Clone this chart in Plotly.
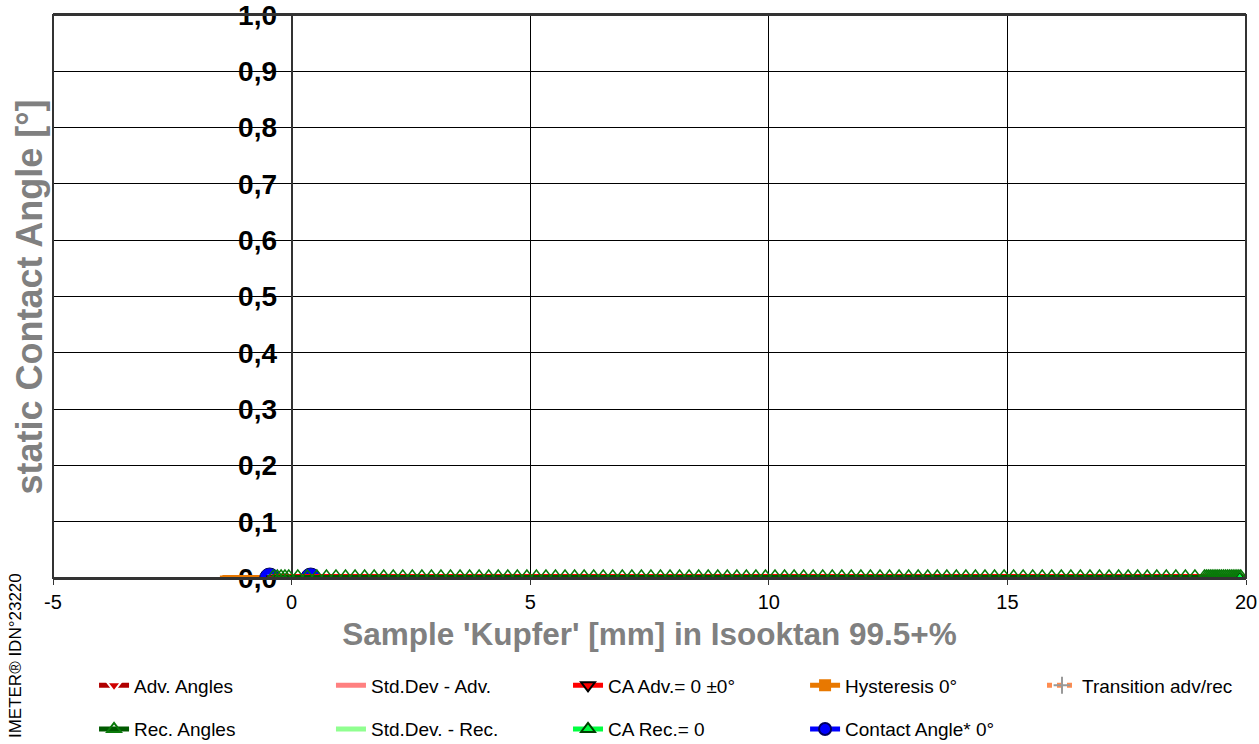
import plotly.graph_objects as go

# Measurement positions along the sample [mm]
positions = [
    -0.38, -0.30, -0.22, -0.14, -0.06,
    0.13, 0.33, 0.53, 0.73, 0.93, 1.13, 1.33, 1.53, 1.73, 1.93,
    2.13, 2.33, 2.53, 2.73, 2.93, 3.13, 3.33, 3.53, 3.73, 3.93,
    4.13, 4.33, 4.53, 4.73, 4.93, 5.13, 5.33, 5.53, 5.73, 5.93,
    6.13, 6.33, 6.53, 6.73, 6.93, 7.13, 7.33, 7.53, 7.73, 7.93,
    8.13, 8.33, 8.53, 8.73, 8.93, 9.13, 9.33, 9.53, 9.73, 9.93,
    10.13, 10.33, 10.53, 10.73, 10.93, 11.13, 11.33, 11.53, 11.73, 11.93,
    12.13, 12.33, 12.53, 12.73, 12.93, 13.13, 13.33, 13.53, 13.73, 13.93,
    14.13, 14.33, 14.53, 14.73, 14.93, 15.13, 15.33, 15.53, 15.73, 15.93,
    16.13, 16.33, 16.53, 16.73, 16.93, 17.13, 17.33, 17.53, 17.73, 17.93,
    18.13, 18.33, 18.53, 18.73, 18.93, 19.13,
    19.17, 19.21, 19.25, 19.29, 19.33, 19.37, 19.41, 19.45, 19.49, 19.53,
    19.57, 19.61, 19.65, 19.69, 19.73, 19.77, 19.81, 19.85, 19.89,
]
adv_angles = [0.0] * len(positions)   # every advancing angle reads 0°
rec_angles = [0.0] * len(positions)   # every receding angle reads 0°

stddev_x = [-0.42, 19.90]
stddev_adv = [0.0, 0.0]
stddev_rec = [0.0, 0.0]

ca_adv_x = [-0.42, 19.95]
ca_adv_y = [0.0, 0.0]

ca_rec_x = [19.87]
ca_rec_y = [0.0]

hysteresis_x = [-1.45, -0.57]
hysteresis_y = [0.0, 0.0]

transition_x = [19.13]
transition_y = [0.0]

contact_x = [-0.46, 0.40]
contact_y = [0.0, 0.0]

x_ticks = [-5, 0, 5, 10, 15, 20]
x_ticktext = ["-5", "0", "5", "10", "15", "20"]
y_ticks = [0.0, 0.1, 0.2, 0.3, 0.4, 0.5, 0.6, 0.7, 0.8, 0.9, 1.0]

FONT = "Liberation Sans, Arial, sans-serif"

fig = go.Figure()

# Drawing order: background series first, measurement markers on top
fig.add_trace(go.Scatter(
    x=hysteresis_x, y=hysteresis_y, name="Hysteresis 0°", legend="legend4",
    legendgroup="hys", legendrank=1, mode="lines+markers",
    line=dict(color="#E87800", width=6),
    marker=dict(symbol="square", size=5, color="#E87800"),
))
fig.add_trace(go.Scatter(
    x=transition_x, y=transition_y, name="Transition adv/rec", legend="legend5",
    legendgroup="tr", legendrank=1, mode="lines+markers",
    line=dict(color="#FF8C50", width=6, dash="dot"),
    marker=dict(symbol="cross-thin-open", size=9, color="#999999",
                line=dict(color="#999999", width=1.5)),
))
fig.add_trace(go.Scatter(
    x=stddev_x, y=stddev_adv, name="Std.Dev - Adv.", legend="legend2",
    legendgroup="sda", legendrank=1, mode="lines",
    line=dict(color="#FF8080", width=6),
))
fig.add_trace(go.Scatter(
    x=stddev_x, y=stddev_rec, name="Std.Dev. - Rec.", legend="legend2",
    legendgroup="sdr", legendrank=2, mode="lines",
    line=dict(color="#90FF90", width=6),
))
fig.add_trace(go.Scatter(
    x=contact_x, y=contact_y, name="Contact Angle* 0°", legend="legend4",
    legendgroup="ca", legendrank=2, mode="lines+markers",
    line=dict(color="#0000FF", width=6),
    marker=dict(symbol="circle", size=20, color="#0000FF",
                line=dict(color="#000060", width=1)),
))
fig.add_trace(go.Scatter(
    x=positions, y=adv_angles, name="Adv. Angles", legend="legend",
    legendgroup="adv", legendrank=1, mode="lines+markers",
    line=dict(color="#B00000", width=6),
    marker=dict(symbol="triangle-down", size=11, color="#D00000",
                line=dict(color="#FFFFFF", width=1)),
))
fig.add_trace(go.Scatter(
    x=ca_adv_x, y=ca_adv_y, name="CA Adv.= 0 ±0°", legend="legend3",
    legendgroup="caa", legendrank=1, mode="lines+markers",
    line=dict(color="#FF0000", width=8),
    marker=dict(symbol="triangle-down", size=9, color="#FF0000",
                line=dict(color="#000000", width=1)),
))
fig.add_trace(go.Scatter(
    x=positions, y=rec_angles, name="Rec. Angles", legend="legend",
    legendgroup="rec", legendrank=2, mode="lines+markers",
    line=dict(color="#005A00", width=6),
    marker=dict(symbol="triangle-up-open", size=16, color="#0A7A0A",
                line=dict(color="#0A7A0A", width=1.5)),
))
fig.add_trace(go.Scatter(
    x=ca_rec_x, y=ca_rec_y, name="CA Rec.= 0", legend="legend3",
    legendgroup="car", legendrank=2, mode="lines+markers",
    line=dict(color="#00FF40", width=6),
    marker=dict(symbol="triangle-up", size=10, color="#00FF40",
                line=dict(color="#004000", width=1)),
))

legend_common = dict(
    y=-0.157, yanchor="top", xanchor="left",
    font=dict(family=FONT, size=19, color="#000000"),
    bgcolor="rgba(0,0,0,0)", tracegroupgap=16, itemsizing="constant",
    itemwidth=30, orientation="v",
)

fig.update_layout(
    width=1259, height=744,
    margin=dict(l=53, r=13, t=15, b=166, autoexpand=False),
    paper_bgcolor="#FFFFFF", plot_bgcolor="#FFFFFF",
    separators=",.",
    font=dict(family=FONT, color="#000000"),
    showlegend=True,
    legend=dict(x=0.0344, **legend_common),
    legend2=dict(x=0.2330, **legend_common),
    legend3=dict(x=0.4317, **legend_common),
    legend4=dict(x=0.6304, **legend_common),
    legend5=dict(x=0.8290, **legend_common),
    xaxis=dict(
        range=[-5, 20], tickvals=x_ticks, ticktext=x_ticktext, showgrid=True,
        gridcolor="#000000", gridwidth=1, zeroline=False, automargin=False,
        showline=True, linecolor="#333333", linewidth=2, mirror=True,
        ticks="outside", ticklen=5, tickcolor="#333333",
        tickfont=dict(family=FONT, size=20, color="#000000"),
        title=dict(text="Sample 'Kupfer' [mm] in Isooktan 99.5+%",
                   font=dict(family=FONT, size=31.5, color="#808080", weight="bold"),
                   standoff=11),
    ),
    yaxis=dict(
        range=[0, 1], tickvals=y_ticks, tickformat=".1f",
        anchor="free", position=0.2, automargin=False,
        showgrid=True, gridcolor="#000000", gridwidth=1, zeroline=False,
        showline=True, linecolor="#333333", linewidth=2,
        ticks="", ticklabelstandoff=8, ticklabeloverflow="allow",
        layer="below traces",
        tickfont=dict(family=FONT, size=28, color="#000000", weight="bold"),
    ),
    shapes=[dict(type="rect", xref="paper", yref="paper", x0=0, x1=1, y0=0, y1=1,
                 line=dict(color="#333333", width=2), layer="above")],
    annotations=[
        dict(text="static Contact Angle [°]", xref="paper", yref="paper",
             x=-0.0193, y=0.5, textangle=-90, showarrow=False,
             xanchor="center", yanchor="middle",
             font=dict(family=FONT, size=36, color="#808080", weight="bold")),
        dict(text="IMETER® IDN°23220", xref="paper", yref="paper",
             x=-0.0319, y=-0.137, textangle=-90, showarrow=False,
             xanchor="center", yanchor="middle",
             font=dict(family=FONT, size=17, color="#000000")),
    ],
)

fig.write_html("out.html")
